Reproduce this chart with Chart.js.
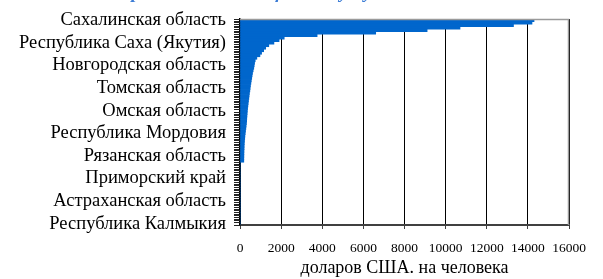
<!DOCTYPE html>
<html><head><meta charset="utf-8">
<script src="https://cdn.jsdelivr.net/npm/chart.js@4/dist/chart.umd.min.js"></script>
<style>html,body{margin:0;padding:0;background:#fff;}#c{display:block;}</style>
</head><body>
<canvas id="c" width="603" height="279"></canvas>
<script>
// Category labels (top to bottom); only every 9th one is legible in the picture
const categories = [
 "Сахалинская область","","","","","","","","",
 "Республика Саха (Якутия)","","","","","","","","",
 "Новгородская область","","","","","","","","",
 "Томская область","","","","","","","","",
 "Омская область","","","","","","","","",
 "Республика Мордовия","","","","","","","","",
 "Рязанская область","","","","","","","","",
 "Приморский край","","","","","","","","",
 "Астраханская область","","","","","","","","",
 "Республика Калмыкия"
];
// US dollars per person
const values = [
 14300,14200,13300,10700,9100,6600,3750,2150,1900,1650,
 1400,1250,1150,1050,970,820,740,710,690,670,
 640,610,590,570,550,530,510,495,480,460,
 445,430,415,400,385,370,360,350,340,330,
 325,315,300,285,270,255,240,230,220,210,
 205,200,195,190,190,185,185,0,0,0,
 0,0,0,0,0,0,0,0,0,0,
 0,0,0,0,0,0,0,0,0,0,
 0,0
];
const xTicks = [0,2000,4000,6000,8000,10000,12000,14000,16000];
const xTitle = "доларов США. на человека";
const chartTitle = "Иностранные инвестиции на душу населения";

const serif = '"Liberation Serif","Times New Roman",serif';

const borderPlugin = {
  id:'borders',
  afterDraw(chart){
    const {ctx, chartArea:a} = chart;
    const ys = chart.scales.y;
    ctx.save();
    // category tick marks on the left axis
    ctx.strokeStyle = '#222';
    ctx.lineWidth = 1;
    const n = categories.length;
    ctx.beginPath();
    for (let i = 0; i <= n; i++) {
      let y;
      if (i === 0) y = ys.getPixelForTick(0) - (ys.getPixelForTick(1)-ys.getPixelForTick(0))/2;
      else if (i === n) y = ys.getPixelForTick(n-1) + (ys.getPixelForTick(n-1)-ys.getPixelForTick(n-2))/2;
      else y = (ys.getPixelForTick(i) + ys.getPixelForTick(i-1))/2;
      y = Math.round(y) + 0.5;
      ctx.moveTo(a.left-6, y);
      ctx.lineTo(a.left, y);
    }
    ctx.stroke();
    // plot border top/right
    ctx.strokeStyle = '#9a9a9a';
    ctx.lineWidth = 1.5;
    ctx.beginPath();
    ctx.moveTo(a.left, a.top+0.5);
    ctx.lineTo(a.right-0.5, a.top+0.5);
    ctx.lineTo(a.right-0.5, a.bottom);
    ctx.stroke();
    // title, mostly above the visible area
    ctx.fillStyle = '#3a7bd5';
    ctx.font = 'italic bold 19px ' + serif;
    ctx.textAlign = 'center';
    ctx.textBaseline = 'alphabetic';
    ctx.fillText(chartTitle, 268, -2.5);
    ctx.restore();
  }
};

new Chart(document.getElementById('c'), {
  type:'bar',
  data:{
    labels: categories,
    datasets:[{
      data: values,
      backgroundColor:'#0066cc',
      borderColor:'#0066cc',
      borderWidth:0,
      barPercentage:1.0,
      categoryPercentage:1.0
    }]
  },
  options:{
    indexAxis:'y',
    responsive:false,
    animation:false,
    devicePixelRatio:1,
    layout:{padding:{top:15,right:34,left:0,bottom:0}},
    plugins:{legend:{display:false},tooltip:{enabled:false},title:{display:false}},
    scales:{
      x:{
        type:'linear',
        min:0,max:16000,
        afterBuildTicks(scale){ scale.ticks = xTicks.map(v=>({value:v})); },
        afterFit(scale){ scale.height = 54; },
        grid:{color:'#000',lineWidth:1,drawTicks:true,tickLength:4,tickColor:'#404040'},
        border:{color:'#404040',width:2},
        ticks:{color:'#000',font:{family:serif,size:13.5},padding:11,maxRotation:0,autoSkip:false,
          callback(v){ return String(v); }},
        title:{display:true,text:xTitle,color:'#000',font:{family:serif,size:18},padding:{top:0,bottom:0}}
      },
      y:{
        afterFit(scale){ scale.width = 240; },
        grid:{offset:true,drawOnChartArea:false,drawTicks:true,tickLength:6,color:'#222',lineWidth:1},
        border:{color:'#000',width:1.5},
        ticks:{autoSkip:false,color:'#000',font:{family:serif,size:18.5},padding:8,
          callback(v,i){ return categories[i]; }}
      }
    }
  },
  plugins:[borderPlugin]
});
</script>
</body></html>
